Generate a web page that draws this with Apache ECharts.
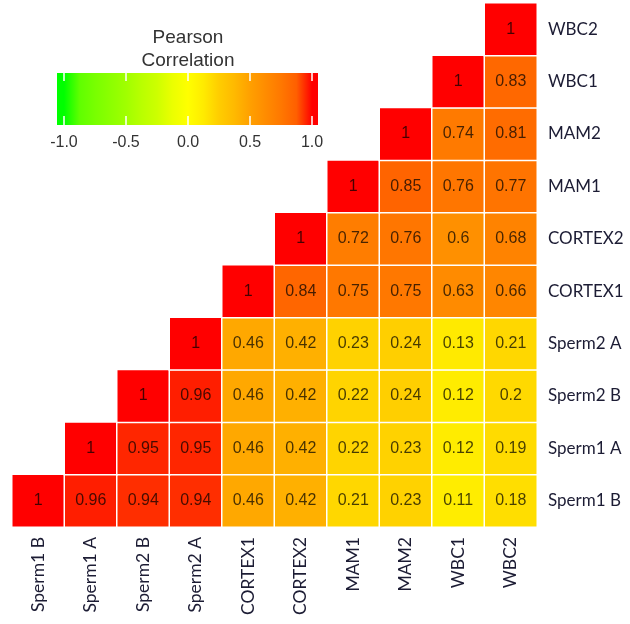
<!DOCTYPE html>
<html>
<head>
<meta charset="utf-8">
<script src="https://cdn.jsdelivr.net/npm/echarts@6/dist/echarts.min.js"></script>
<style>html,body{margin:0;padding:0;background:#fff}#c{width:630px;height:624px}</style>
</head>
<body>
<div id="c"></div>
<script>
// Categories (bottom-to-top on y, left-to-right on x)
var categories = ['Sperm1 B', 'Sperm1 A', 'Sperm2 B', 'Sperm2 A', 'CORTEX1', 'CORTEX2', 'MAM1', 'MAM2', 'WBC1', 'WBC2'];
// Upper-triangle correlation rows: row i lists values for columns i..9
var rowSperm1B = [1, 0.96, 0.94, 0.94, 0.46, 0.42, 0.21, 0.23, 0.11, 0.18];
var rowSperm1A = [1, 0.95, 0.95, 0.46, 0.42, 0.22, 0.23, 0.12, 0.19];
var rowSperm2B = [1, 0.96, 0.46, 0.42, 0.22, 0.24, 0.12, 0.2];
var rowSperm2A = [1, 0.46, 0.42, 0.23, 0.24, 0.13, 0.21];
var rowCORTEX1 = [1, 0.84, 0.75, 0.75, 0.63, 0.66];
var rowCORTEX2 = [1, 0.72, 0.76, 0.6, 0.68];
var rowMAM1 = [1, 0.85, 0.76, 0.77];
var rowMAM2 = [1, 0.74, 0.81];
var rowWBC1 = [1, 0.83];
var rowWBC2 = [1];
var rows = [rowSperm1B, rowSperm1A, rowSperm2B, rowSperm2A, rowCORTEX1, rowCORTEX2, rowMAM1, rowMAM2, rowWBC1, rowWBC2];
// Legend tick labels
var legendTicks = [-1, -0.5, 0, 0.5, 1];

// colour ramp: green -> yellow -> red, stops every 0.125 from -1 to 1
var rampColors = ['#00ff00', '#5fff00', '#78ff00', '#8cff00', '#a0ff00', '#b9ff00', '#cdff00', '#ebff00', '#ffff00',
                  '#ffeb00', '#ffcd00', '#ffb900', '#ffa000', '#ff8c00', '#ff7800', '#ff5f00', '#ff0000'];

var data = [];
rows.forEach(function (r, i) {
  r.forEach(function (v, k) { data.push([i + k, i, v]); });
});

// legend bar gradient, bar spans values legMin..legMax
var legMin = -1.056, legMax = 1.048;
var gradStops = [{offset: 0, color: rampColors[0]}];
rampColors.forEach(function (c, idx) {
  var v = -1 + idx * 0.125;
  gradStops.push({offset: (v - legMin) / (legMax - legMin), color: c});
});
gradStops.push({offset: 1, color: rampColors[rampColors.length - 1]});

var chart = echarts.init(document.getElementById('c'));
chart.setOption({
  animation: false,
  backgroundColor: '#ffffff',
  grid: [
    {left: 12, right: 93, top: 3, bottom: 97},
    {left: 57, width: 261, top: 73, height: 52}
  ],
  xAxis: [
    {
      type: 'category', data: categories, gridIndex: 0, position: 'bottom',
      axisLine: {show: false}, axisTick: {show: false}, splitArea: {show: false},
      axisLabel: {rotate: 90, margin: 10, fontSize: 17.5, color: '#1c1c34', fontFamily: 'Lato'}
    },
    {
      type: 'value', gridIndex: 1, min: legMin, max: legMax, position: 'bottom',
      axisLine: {show: false}, splitLine: {show: false},
      axisTick: {show: true, inside: true, length: 9, lineStyle: {color: '#ffffff', width: 1.5}, customValues: legendTicks},
      axisLabel: {margin: 10, fontSize: 16, color: '#333333', fontFamily: 'Liberation Sans', customValues: legendTicks,
                  formatter: function (v) { return v.toFixed(1); }}
    },
    {
      type: 'value', gridIndex: 1, min: legMin, max: legMax, position: 'top',
      axisLine: {show: false}, splitLine: {show: false},
      axisTick: {show: true, inside: true, length: 8, lineStyle: {color: '#ffffff', width: 1.5}, customValues: legendTicks},
      axisLabel: {show: false}
    }
  ],
  yAxis: [
    {
      type: 'category', data: categories, gridIndex: 0, position: 'right',
      axisLine: {show: false}, axisTick: {show: false}, splitArea: {show: false},
      axisLabel: {margin: 11, fontSize: 17, color: '#1c1c34', fontFamily: 'Lato'}
    },
    {type: 'value', gridIndex: 1, show: false, min: 0, max: 1}
  ],
  visualMap: {
    show: false, type: 'continuous', min: -1, max: 1, seriesIndex: 0,
    inRange: {color: rampColors}
  },
  graphic: [
    {type: 'rect', z: 0, shape: {x: 57, y: 73, width: 261, height: 52},
     style: {fill: new echarts.graphic.LinearGradient(0, 0, 1, 0, gradStops)}},
    {type: 'text', z: 10, x: 188, y: 26,
     style: {text: 'Pearson\nCorrelation', textAlign: 'center', font: '19px "Liberation Sans"', fill: '#333333', lineHeight: 23}}
  ],
  series: [
    {
      type: 'heatmap', xAxisIndex: 0, yAxisIndex: 0, data: data,
      itemStyle: {borderColor: '#ffffff', borderWidth: 1.5},
      label: {show: true, fontSize: 16, fontFamily: 'Liberation Sans', color: 'rgba(0,0,0,0.72)',
              formatter: function (p) { return String(p.value[2]); }}
    },
    {type: 'scatter', xAxisIndex: 1, yAxisIndex: 1, data: [], silent: true}
  ]
});
</script>
</body>
</html>
